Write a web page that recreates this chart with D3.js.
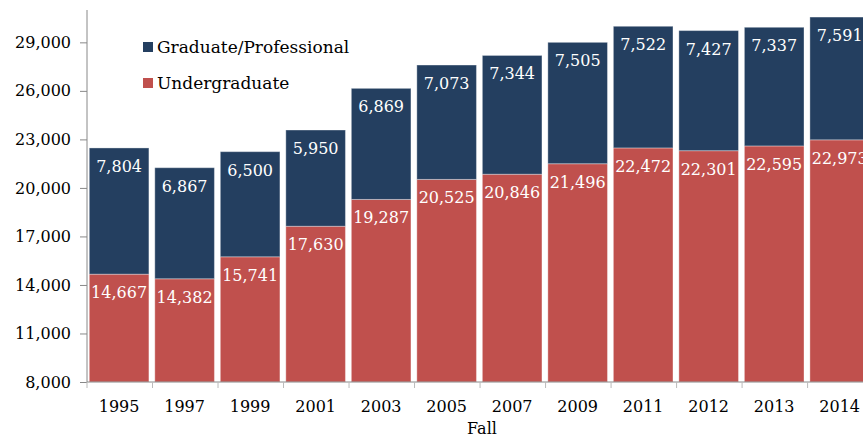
<!DOCTYPE html>
<html>
<head>
<meta charset="utf-8">
<script src="https://cdn.jsdelivr.net/npm/d3@7"></script>
<style>
  html, body { margin: 0; padding: 0; background: #fff; }
  svg { display: block; }
  text { font-family: Rockwell, "DejaVu Serif", serif; }
</style>
</head>
<body>
<svg id="chart" width="863" height="438"></svg>
<script>
// Enrollment by fall term
const years = ["1995", "1997", "1999", "2001", "2003", "2005", "2007", "2009", "2011", "2012", "2013", "2014"];
const undergraduate = [14667, 14382, 15741, 17630, 19287, 20525, 20846, 21496, 22472, 22301, 22595, 22973];
const graduate = [7804, 6867, 6500, 5950, 6869, 7073, 7344, 7505, 7522, 7427, 7337, 7591];
const yTicks = [8000, 11000, 14000, 17000, 20000, 23000, 26000, 29000];
const seriesNames = ["Graduate/Professional", "Undergraduate"];
const seriesColors = ["#243F60", "#C0504D"];

const svg = d3.select("#chart");
const plotLeft = 87, plotBottom = 382, plotTop = 10;

const x = d3.scaleBand()
  .domain(years)
  .range([plotLeft, plotLeft + 65.4 * years.length])
  .paddingInner(0.09)
  .paddingOuter(0.035);

const y = d3.scaleLinear().domain([8000, 31000]).range([plotBottom, plotTop]);

const rows = years.map((yr, i) => ({ year: yr, under: undergraduate[i], grad: graduate[i] }));

// Undergraduate segments (base of stack)
svg.append("g").selectAll("rect")
  .data(rows).join("rect")
  .attr("x", d => x(d.year))
  .attr("width", x.bandwidth())
  .attr("y", d => y(d.under))
  .attr("height", d => y(8000) - y(d.under))
  .attr("fill", seriesColors[1])
  .attr("stroke", "rgba(255,255,255,0.35)")
  .attr("stroke-width", 1);

// Graduate/Professional segments stacked on top
svg.append("g").selectAll("rect")
  .data(rows).join("rect")
  .attr("x", d => x(d.year))
  .attr("width", x.bandwidth())
  .attr("y", d => y(d.under + d.grad))
  .attr("height", d => y(d.under) - y(d.under + d.grad))
  .attr("fill", seriesColors[0])
  .attr("stroke", "rgba(255,255,255,0.35)")
  .attr("stroke-width", 1);

const fmt = d3.format(",");

// Value labels inside the top of each segment
svg.append("g").selectAll("text")
  .data(rows).join("text")
  .attr("x", d => x(d.year) + x.bandwidth() / 2)
  .attr("y", d => y(d.under) + 24)
  .attr("text-anchor", "middle")
  .attr("fill", "#fff")
  .attr("font-size", 16)
  .text(d => fmt(d.under));

svg.append("g").selectAll("text")
  .data(rows).join("text")
  .attr("x", d => x(d.year) + x.bandwidth() / 2)
  .attr("y", d => y(d.under + d.grad) + 24)
  .attr("text-anchor", "middle")
  .attr("fill", "#fff")
  .attr("font-size", 16)
  .text(d => fmt(d.grad));

// Y axis
const yAxis = svg.append("g")
  .attr("transform", `translate(${plotLeft},0)`)
  .call(d3.axisLeft(y).tickValues(yTicks).tickFormat(fmt).tickSize(7).tickSizeOuter(0).tickPadding(9));
yAxis.select(".domain").attr("stroke", "#888").attr("d", `M0,${plotTop}V${plotBottom}`);
yAxis.selectAll(".tick line").attr("stroke", "#888");
yAxis.selectAll(".tick text").attr("font-size", 16).attr("fill", "#000")
  .style("font-family", 'Rockwell, "DejaVu Serif", serif');

// X axis: baseline with ticks at category boundaries
const xAxis = svg.append("g").attr("transform", `translate(0,${plotBottom})`);
xAxis.append("line")
  .attr("x1", plotLeft).attr("x2", 863)
  .attr("stroke", "#888");
const step = x.step();
xAxis.selectAll("line.sep")
  .data(years).join("line")
  .attr("class", "sep")
  .attr("x1", (d, i) => plotLeft + i * step)
  .attr("x2", (d, i) => plotLeft + i * step)
  .attr("y1", 0).attr("y2", 6)
  .attr("stroke", "#bbb");
xAxis.selectAll("text")
  .data(years).join("text")
  .attr("x", d => x(d) + x.bandwidth() / 2)
  .attr("y", 30)
  .attr("text-anchor", "middle")
  .attr("font-size", 16)
  .attr("fill", "#000")
  .text(d => d);

svg.append("text")
  .attr("x", 482).attr("y", 434)
  .attr("text-anchor", "middle")
  .attr("font-size", 16)
  .attr("fill", "#000")
  .text("Fall");

// Legend
const legend = svg.append("g").attr("transform", "translate(143,0)");
seriesNames.forEach((name, i) => {
  const cy = 47 + i * 36;
  legend.append("rect")
    .attr("x", 0).attr("y", cy - 5)
    .attr("width", 10).attr("height", 10)
    .attr("fill", seriesColors[i]);
  legend.append("text")
    .attr("x", 14).attr("y", cy + 6)
    .attr("font-size", 17)
    .attr("fill", "#000")
    .text(name);
});
</script>
</body>
</html>
